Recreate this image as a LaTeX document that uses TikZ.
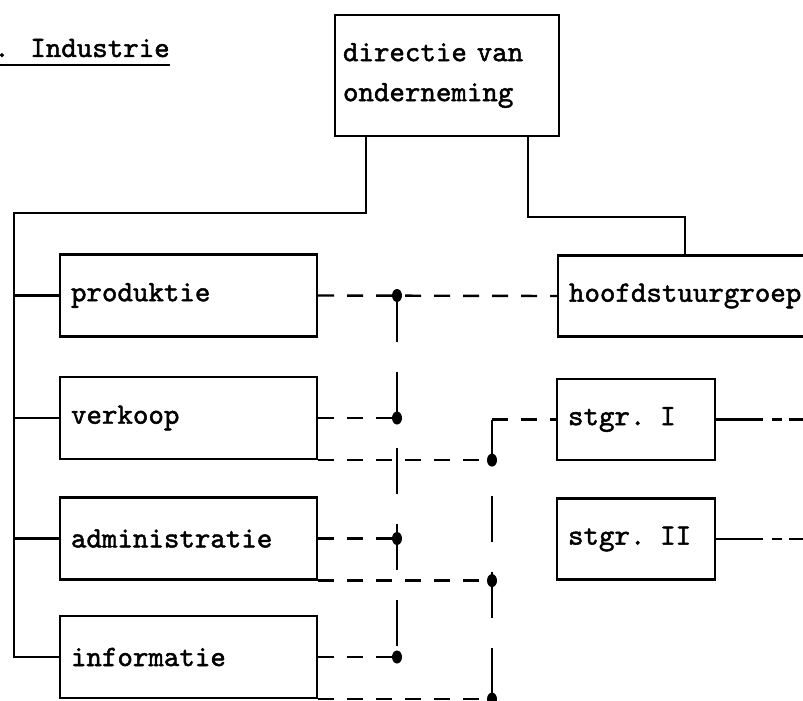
\documentclass[tikz,border=0pt]{standalone}
\usepackage{fontspec}
\newfontfamily\typewr{lmmono10-regular}[Extension=.otf, FakeBold=1.6]
\usetikzlibrary{positioning}

\begin{document}
\begin{tikzpicture}[x=1pt, y=-1pt,
		box/.style={draw, line width=2.2pt, rectangle, font=\typewr\fontsize{29.5}{40}\selectfont, inner xsep=11pt, inner ysep=0pt, align=left},
		lbox/.style={box, text width=235pt, minimum height=82pt},
		sbox/.style={box, text width=136pt, minimum height=81pt},
		lijn/.style={line width=2.4pt},
		hstip/.style={line width=2.4pt, dash pattern=on 16pt off 13pt},
		vstip/.style={line width=2.4pt, dash pattern=on 46pt off 30pt},
		uitlijn/.style={line width=2.4pt, dash pattern=on 47pt off 9pt on 10pt off 7pt on 30pt}]
			\useasboundingbox (0,0) rectangle (803,701);
			\clip (0,0) rectangle (803,701);
			
			\node[anchor=base west, inner sep=0pt, font=\typewr\fontsize{29.5}{40}\selectfont] (title) at (-6,57) {. Industrie};
			\draw[line width=1.8pt] ([yshift=-8pt]title.base west) -- ([yshift=-8pt]title.base east);
			
			\node[box, text width=208pt, inner xsep=8pt, minimum height=121pt] (dir) at (447,75.5) {directie van\\onderneming};
			
			\foreach \name/\txt/\y in {prod/produktie/295.5, verk/verkoop/418, adm/administratie/538.5, inf/informatie/657}{
				\node[lbox] (\name) at (188.5,\y) {\txt};
			}
			
			\node[box, text width=238pt, minimum height=81pt] (hfd) at (688,296) {hoofdstuurgroep};
			\node[sbox] (st1) at (636,419.5) {stgr. I};
			\node[sbox] (st2) at (636,539) {stgr. II};
			
			% lijnen vanuit de directie
			\coordinate (lbus) at (14,213);
			\draw[lijn] ([xshift=32pt]dir.south west) |- (lbus) |- (inf.west);
			\foreach \name in {prod, verk, adm}{
				\draw[lijn] (lbus |- \name.west) -- (\name.west);
			}
			\draw[lijn] ([xshift=-32pt]dir.south east) -- ++(0,80) -| ([xshift=128pt]hfd.north west);
			
			% stippellijnen
			\coordinate (busa) at (397,0);
			\coordinate (busb) at (492,0);
			\coordinate (rand) at (803,0);
			
			\draw[hstip] (prod.east) -- (hfd.west);
			\draw[vstip] (busa |- prod.east) -- (busa |- inf.east);
			\foreach \name in {verk, adm, inf}{
				\draw[hstip] (\name.east) -- (busa |- \name.east);
			}
			\foreach \name in {prod, verk, adm, inf}{
				\fill (busa |- \name.east) ellipse (5 and 6.5);
			}
			
			\draw[vstip] (busb |- st1.west) -- (busb |- inf.south east);
			\draw[hstip] (busb |- st1.west) -- (st1.west);
			\foreach \name in {verk, adm, inf}{
				\draw[hstip] (\name.south east) -- (busb |- \name.south east);
				\fill (busb |- \name.south east) ellipse (5 and 6.5);
			}
			
			\draw[uitlijn] (st1.east) -- (rand |- st1.east);
			\draw[uitlijn] (st2.east) -- (rand |- st2.east);
			
		\end{tikzpicture}
\end{document}
